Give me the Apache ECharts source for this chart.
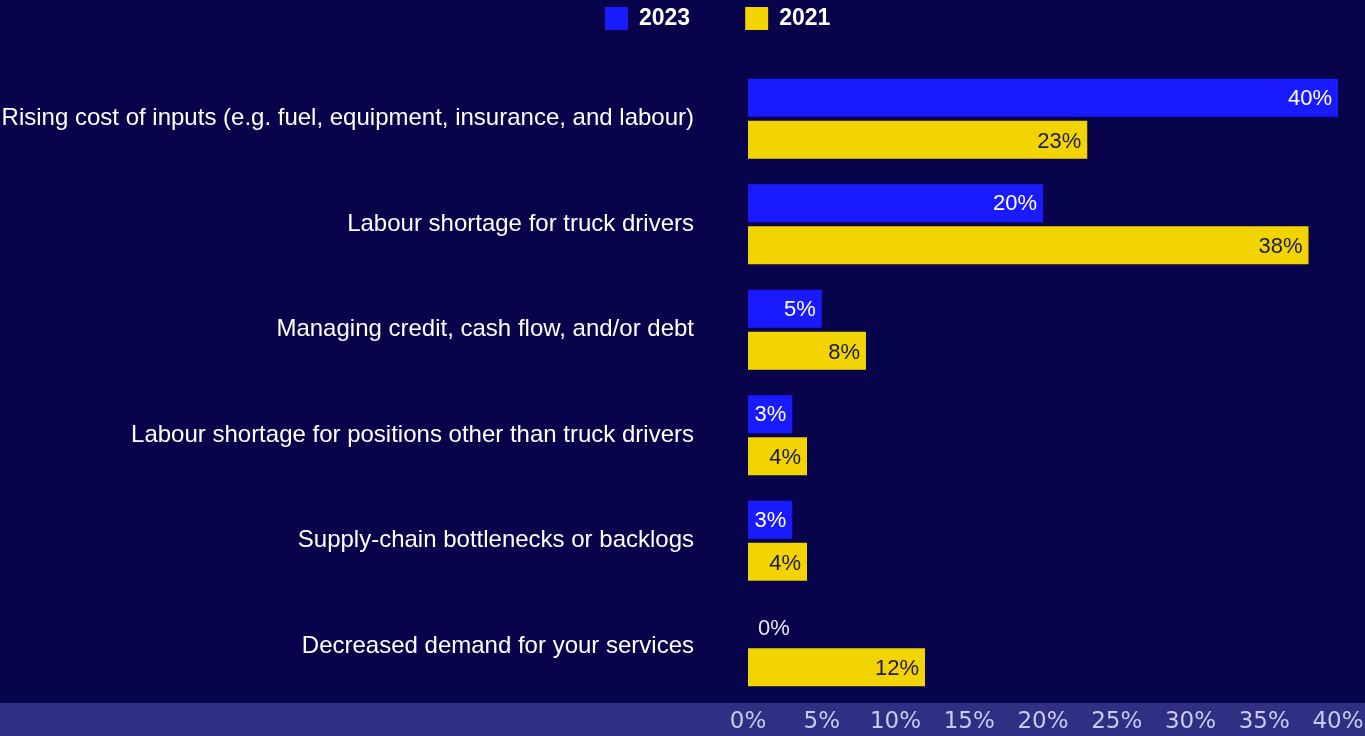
<!DOCTYPE html>
<html>
<head>
<meta charset="utf-8">
<script src="https://cdn.jsdelivr.net/npm/echarts@6/dist/echarts.min.js"></script>
<style>
  html, body { margin: 0; padding: 0; background: #08044c; }
  #chart { width: 1365px; height: 736px; }
</style>
</head>
<body>
<div id="chart"></div>
<script>
// Survey categories (top to bottom)
const categories = [
  'Rising cost of inputs (e.g. fuel, equipment, insurance, and labour)',
  'Labour shortage for truck drivers',
  'Managing credit, cash flow, and/or debt',
  'Labour shortage for positions other than truck drivers',
  'Supply-chain bottlenecks or backlogs',
  'Decreased demand for your services'
];
// Share of respondents, percent
const values2023 = [40, 20, 5, 3, 3, 0];
const values2021 = [23, 38, 8, 4, 4, 12];
const seriesNames = ['2023', '2021'];
const xTicks = { min: 0, max: 40, step: 5 };

const BG = '#08044c';
const BLUE = '#1a1aff';
const YELLOW = '#f2d400';
const SANS = '"Liberation Sans", Arial, sans-serif';

// zero values get their label placed just outside the (empty) bar
function toItems(arr, zeroColor) {
  return arr.map(v => v === 0
    ? { value: v, label: { position: 'right', distance: 10, offset: [0, 4], color: zeroColor } }
    : { value: v });
}

const chart = echarts.init(document.getElementById('chart'), null, { renderer: 'canvas' });
chart.setOption({
  backgroundColor: BG,
  animation: false,
  graphic: [{
    type: 'rect',
    left: 0, top: 703,
    shape: { width: 1365, height: 33 },
    style: { fill: '#2f2f84' },
    z: -10, silent: true
  }],
  legend: {
    top: 2,
    left: 600,
    itemWidth: 23,
    itemHeight: 23,
    itemGap: 55,
    icon: 'rect',
    textStyle: { color: '#ffffff', fontSize: 23, fontWeight: 'bold', fontFamily: SANS, padding: [0, 0, 0, 6] },
    data: seriesNames
  },
  grid: { left: 748, right: 27, top: 66, bottom: 37, containLabel: false, outerBoundsMode: 'none' },
  xAxis: {
    type: 'value',
    min: xTicks.min, max: xTicks.max, interval: xTicks.step,
    axisLine: { show: false }, axisTick: { show: false }, splitLine: { show: false },
    axisLabel: {
      formatter: '{value}%',
      color: '#c7cbee',
      fontSize: 23,
      fontFamily: '"DejaVu Sans", sans-serif',
      margin: 12
    },
    z: 5
  },
  yAxis: {
    type: 'category',
    inverse: true,
    data: categories,
    axisLine: { show: false }, axisTick: { show: false },
    axisLabel: {
      color: '#ffffff',
      fontSize: 24,
      fontFamily: SANS,
      margin: 54,
      padding: [3, 0, 0, 0]
    }
  },
  series: [
    {
      name: seriesNames[0], type: 'bar',
      data: toItems(values2023, '#e8e8f4'),
      barWidth: 38, barGap: '10%',
      itemStyle: { color: BLUE },
      label: {
        show: true, position: 'insideRight', distance: 6, offset: [0, 1],
        formatter: '{c}%', color: '#ffffff', fontSize: 22,
        fontFamily: SANS
      }
    },
    {
      name: seriesNames[1], type: 'bar',
      data: toItems(values2021, '#e8e8f4'),
      barWidth: 38, barGap: '10%',
      itemStyle: { color: YELLOW },
      label: {
        show: true, position: 'insideRight', distance: 6, offset: [0, 2],
        formatter: '{c}%', color: '#1c1a4e', fontSize: 22,
        fontFamily: SANS
      }
    }
  ]
});
</script>
</body>
</html>
